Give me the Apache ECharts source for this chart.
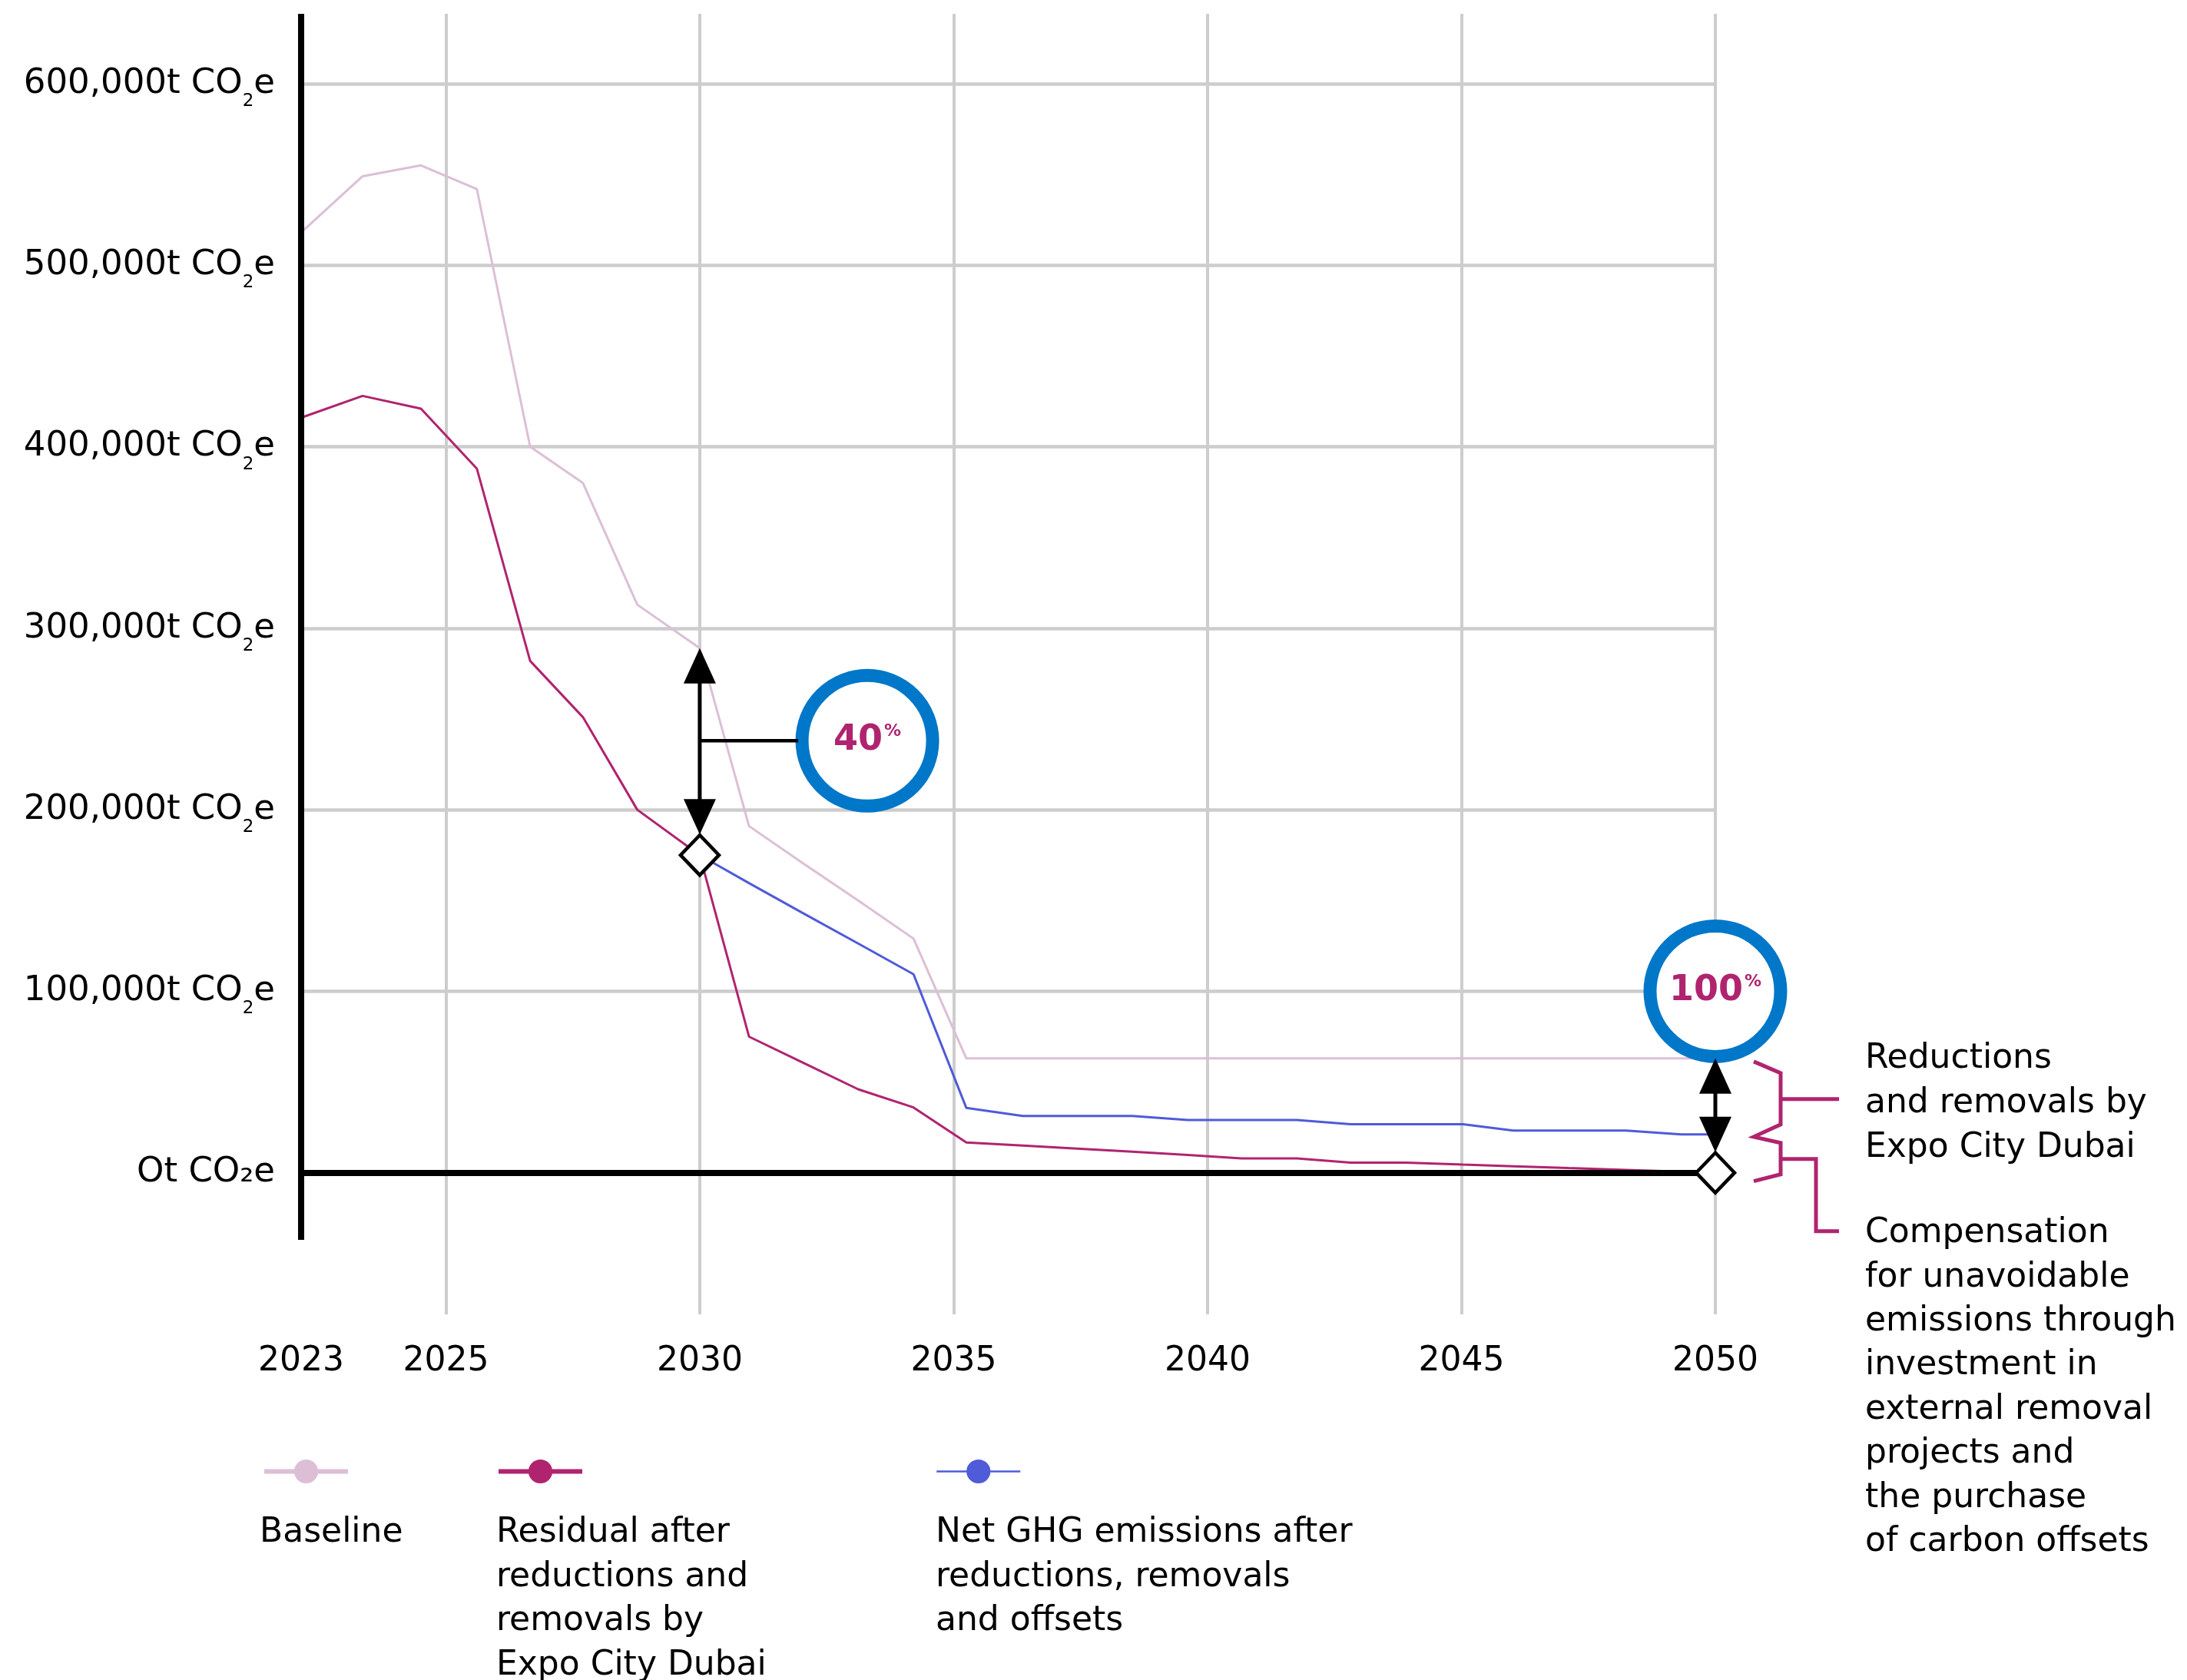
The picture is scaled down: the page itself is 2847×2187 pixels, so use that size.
<!DOCTYPE html>
<html>
<head>
<meta charset="utf-8">
<title>Expo City Dubai emissions pathway</title>
<script src="https://cdn.jsdelivr.net/npm/echarts@6/dist/echarts.min.js"></script>
<style>
  html, body { margin: 0; padding: 0; background: #fff; }
  #chart { width: 2847px; height: 2187px; }
</style>
</head>
<body>
<div id="chart"></div>
<script>
// x positions in axis units (the axis origin is labelled 2023)
const xPoints = [2022.15, 2023.36, 2024.51, 2025.61, 2026.66, 2027.70, 2028.77, 2030.00, 2030.97,
  2032.01, 2033.12, 2034.21, 2035.25, 2036.36, 2037.43, 2038.52, 2039.61, 2040.67, 2041.76,
  2042.82, 2043.91, 2045.03, 2046.02, 2047.11, 2048.24, 2049.33, 2050];

// tonnes CO2e
const baseline = [518000, 549000, 555000, 542000, 400000, 380000, 313000, 289000, 191000,
  171000, 150000, 129000, 63000, 63000, 63000, 63000, 63000, 63000, 63000,
  63000, 63000, 63000, 63000, 63000, 63000, 63000, 63000];
const residual = [416000, 428000, 421000, 388000, 282000, 251000, 200000, 175000, 75000,
  61000, 46000, 36000, 16700, 15000, 13300, 11600, 9800, 7900, 7900,
  5600, 5600, 4500, 3600, 2600, 1600, 600, 0];
const netGhg = [null, null, null, null, null, null, null, 175000, 159600,
  143400, 126300, 109400, 35700, 31300, 31300, 31300, 29100, 29100, 29100,
  26700, 26700, 26700, 23300, 23300, 23300, 21100, 21100];

const seriesNames = ['Baseline',
  'Residual after reductions and removals by Expo City Dubai',
  'Net GHG emissions after reductions, removals and offsets'];
const legendLabels = [
  ['Baseline'],
  ['Residual after', 'reductions and', 'removals by', 'Expo City Dubai'],
  ['Net GHG emissions after', 'reductions, removals', 'and offsets']
];

const xTickValues = [2022.15, 2025, 2030, 2035, 2040, 2045, 2050];
const xTickLabels = ['2023', '2025', '2030', '2035', '2040', '2045', '2050'];
const yTickValues = [0, 100000, 200000, 300000, 400000, 500000, 600000];
const yTickLabels = ['Ot CO₂e', '100,000t CO₂e', '200,000t CO₂e', '300,000t CO₂e',
  '400,000t CO₂e', '500,000t CO₂e', '600,000t CO₂e'];

// double arrows: from baseline down to the net line, with the % circle
const callouts = [
  { label: '40', x: 2030, from: 289000, to: 175000, circleX: 2033.3, circleY: 238000 },
  { label: '100', x: 2050, from: 63000, to: 0, circleX: 2050, circleY: 100000 }
];
const brace = { x: 2050, top: 63000, mid: 21100, bottom: 0 };

const noteReductions = ['Reductions', 'and removals by', 'Expo City Dubai'];
const noteCompensation = ['Compensation', 'for unavoidable', 'emissions through', 'investment in',
  'external removal', 'projects and', 'the purchase', 'of carbon offsets'];

const FONT = '"DejaVu Sans", "Noto Sans", sans-serif';
const MAGENTA = '#b0246f';
const colors = ['#dcbfd6', '#b0246f', '#4f5bd8'];
const xMin = 2022.15, xMax = 2050;
const yMin = -78000, yMax = 638500, axisBottom = -37000;
const DIAMOND = [50, 52];

function pairs(values) {
  return xPoints.map((x, i) => [x, values[i]]).filter(p => p[1] != null);
}

function renderArrow(params, api) {
  const c = callouts[params.dataIndex];
  const top = api.coord([c.x, c.from]);
  const bottom = api.coord([c.x, c.to]);
  const x = top[0];
  const yTop = top[1];
  const yBot = bottom[1] - DIAMOND[1] / 2 - 1;
  const h = 46, w = 42;
  const children = [
    { type: 'line', shape: { x1: x, y1: yTop + h - 2, x2: x, y2: yBot - h + 2 }, style: { stroke: '#000', lineWidth: 5 } },
    { type: 'polygon', shape: { points: [[x, yTop], [x - w / 2, yTop + h], [x + w / 2, yTop + h]] }, style: { fill: '#000' } },
    { type: 'polygon', shape: { points: [[x, yBot], [x - w / 2, yBot - h], [x + w / 2, yBot - h]] }, style: { fill: '#000' } }
  ];
  if (c.circleX !== c.x) {
    const centre = api.coord([c.circleX, c.circleY]);
    children.push({ type: 'line', shape: { x1: x, y1: centre[1], x2: centre[0] - 90, y2: centre[1] }, style: { stroke: '#000', lineWidth: 4.5 } });
  }
  return { type: 'group', children: children };
}

function renderBrace(params, api) {
  const x = api.coord([brace.x, 0])[0];
  const yA = api.coord([brace.x, brace.top])[1] + 4;
  const yB = api.coord([brace.x, brace.mid])[1] + 3;
  const yC = api.coord([brace.x, brace.bottom])[1] + 11;
  const x0 = x + 50, x1 = x + 85;
  const yAB = (yA + yB) / 2, yBC = (yB + yC) / 2;
  const st = { stroke: MAGENTA, lineWidth: 5, fill: 'none' };
  return {
    type: 'group',
    children: [
      { type: 'polyline', shape: { points: [[x0, yA], [x1, yA + 15], [x1, yB - 16], [x0, yB], [x1, yB + 8], [x1, yC - 9], [x0, yC]] }, style: st },
      { type: 'line', shape: { x1: x1, y1: yAB, x2: x1 + 76, y2: yAB }, style: st },
      { type: 'polyline', shape: { points: [[x1, yBC], [x1 + 46, yBC], [x1 + 46, yC + 65], [x1 + 76, yC + 65]] }, style: st }
    ]
  };
}

function textBlock(lines, x, y, lineHeight) {
  return {
    type: 'text', x: x, y: y, silent: true,
    style: { text: lines.join('\n'), fontSize: 44, fontFamily: FONT, fill: '#000', lineHeight: lineHeight, verticalAlign: 'top' }
  };
}

const chart = echarts.init(document.getElementById('chart'));

const legendLeft = [341, 646, 1218];
const legendTextLeft = [338, 646, 1218];
const legendLineWidth = [6, 6, 2.5];

const option = {
  animation: false,
  backgroundColor: '#fff',
  grid: { left: 392, right: 614, top: 18, bottom: 476 },
  xAxis: {
    type: 'value', min: xMin, max: xMax,
    axisLine: { show: false },
    axisTick: { show: false, customValues: xTickValues.slice(1) },
    axisLabel: {
      customValues: xTickValues,
      margin: 40,
      fontSize: 44, fontFamily: FONT, color: '#000',
      formatter: v => xTickLabels[xTickValues.indexOf(v)]
    },
    splitLine: { show: true, lineStyle: { color: '#cdcdcd', width: 4 } }
  },
  yAxis: {
    type: 'value', min: yMin, max: yMax,
    axisLine: { show: false },
    axisTick: { show: false, customValues: yTickValues },
    axisLabel: {
      customValues: yTickValues,
      margin: 34,
      formatter: v => {
        const label = yTickLabels[yTickValues.indexOf(v)];
        if (v === 0) return '{n|' + label + '}';
        const parts = label.split('₂');
        return '{n|' + parts[0] + '}{s|2}{n|' + parts[1] + '}';
      },
      rich: {
        n: { fontSize: 45, fontFamily: FONT, color: '#000', lineHeight: 50 },
        s: { fontSize: 23, fontFamily: FONT, color: '#000', lineHeight: 22, padding: [46, 0, 0, 0] }
      }
    },
    splitLine: { show: true, lineStyle: { color: '#cdcdcd', width: 4.5 } }
  },
  legend: seriesNames.map((name, i) => ({
    data: [name],
    left: legendLeft[i], top: 1896, padding: 0,
    itemWidth: 109, itemHeight: 39,
    selectedMode: false,
    formatter: () => '',
    lineStyle: { width: legendLineWidth[i] }
  })),
  graphic: [
    ...legendLabels.map((lines, i) => textBlock(lines, legendTextLeft[i], 1967, 57.5)),
    textBlock(noteReductions, 2428, 1350, 58),
    textBlock(noteCompensation, 2428, 1577, 57.4)
  ],
  series: [
    {
      name: seriesNames[0], type: 'line', data: pairs(baseline),
      symbol: 'circle', showSymbol: false, silent: true, z: 2,
      lineStyle: { color: colors[0], width: 3 }, itemStyle: { color: colors[0] }
    },
    {
      name: seriesNames[1], type: 'line', data: pairs(residual),
      symbol: 'circle', showSymbol: false, silent: true, z: 2,
      lineStyle: { color: colors[1], width: 3 }, itemStyle: { color: colors[1] }
    },
    {
      name: seriesNames[2], type: 'line', data: pairs(netGhg),
      symbol: 'circle', showSymbol: false, silent: true, z: 2,
      lineStyle: { color: colors[2], width: 3 }, itemStyle: { color: colors[2] }
    },
    {
      // black y axis and zero line
      type: 'line', data: [], clip: false, silent: true,
      markLine: {
        silent: true, symbol: 'none', z: 5,
        label: { show: false },
        emphasis: { disabled: true },
        lineStyle: { color: '#000', width: 8, type: 'solid' },
        data: [
          [{ coord: [xMin, yMax] }, { coord: [xMin, axisBottom] }],
          [{ coord: [xMin, 0] }, { coord: [xMax, 0] }]
        ]
      }
    },
    {
      type: 'custom', clip: false, silent: true, z: 11,
      data: callouts.map(c => [c.x, c.from]),
      renderItem: renderArrow
    },
    {
      type: 'custom', clip: false, silent: true, z: 11,
      data: [[brace.x, brace.top]],
      renderItem: renderBrace
    },
    {
      type: 'scatter', clip: false, silent: true, z: 10,
      data: callouts.map(c => ({ name: c.label, value: [c.circleX, c.circleY] })),
      symbol: 'circle', symbolSize: 170,
      itemStyle: { color: '#fff', borderColor: '#0077c8', borderWidth: 17, opacity: 1 },
      label: {
        show: true, position: 'inside', textBorderWidth: 0,
        formatter: p => '{n|' + p.name + '}{p|%}',
        rich: {
          n: { fontSize: 46, fontWeight: 'bold', fontFamily: FONT, color: MAGENTA, textBorderWidth: 0 },
          p: { fontSize: 22, fontWeight: 'bold', fontFamily: FONT, color: MAGENTA, verticalAlign: 'top', padding: [0, 0, 0, 2], textBorderWidth: 0 }
        }
      }
    },
    {
      type: 'scatter', clip: false, silent: true, z: 12,
      data: callouts.map(c => [c.x, c.to]),
      symbol: 'diamond', symbolSize: DIAMOND,
      itemStyle: { color: '#fff', borderColor: '#000', borderWidth: 4.5, opacity: 1 }
    }
  ]
};

chart.setOption(option);
</script>
</body>
</html>
